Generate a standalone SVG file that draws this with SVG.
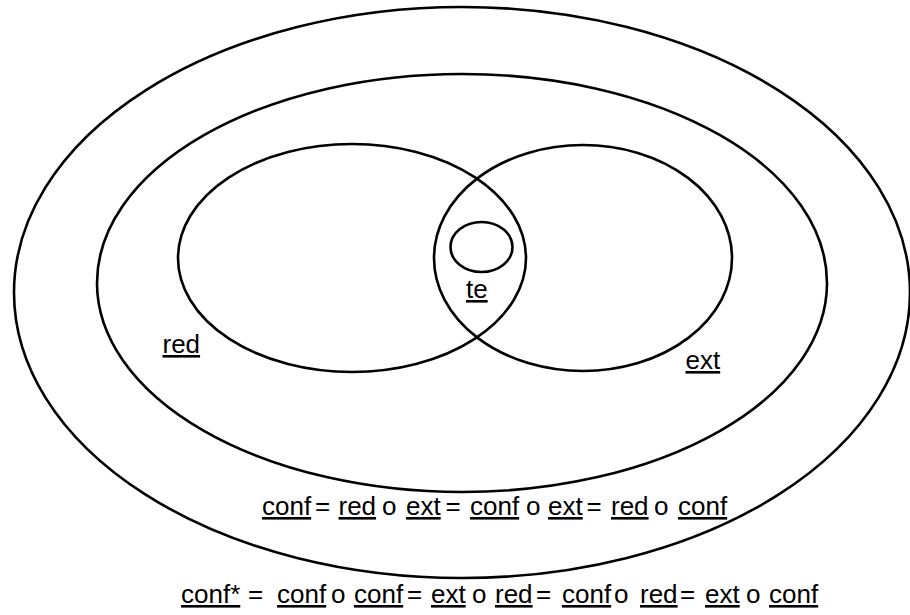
<svg xmlns="http://www.w3.org/2000/svg" width="910" height="615" viewBox="0 0 910 615">
  <style>
    .set { fill: none; stroke: #000; stroke-width: 2.6; }
    .lbl { font-family: "Liberation Sans", Arial, sans-serif; font-size: 26px; fill: #000; }
    .u { text-decoration: underline; }
  </style>
  <rect width="910" height="615" fill="#fff"/>

  <g id="conf-star">
    <ellipse class="set" cx="462" cy="292.5" rx="448" ry="285.5"/>
  </g>
  <g id="conf">
    <ellipse class="set" cx="462" cy="283" rx="365" ry="209"/>
  </g>
  <g id="red">
    <ellipse class="set" cx="352" cy="258" rx="174" ry="114"/>
    <text class="lbl u" x="162.5" y="353">red</text>
  </g>
  <g id="ext">
    <ellipse class="set" cx="583" cy="258" rx="149" ry="113"/>
    <text class="lbl u" x="685.5" y="369">ext</text>
  </g>
  <g id="te">
    <ellipse class="set" cx="481.5" cy="247" rx="31" ry="25"/>
    <text class="lbl u" x="466" y="298">te</text>
  </g>

  <g id="equations">
    <text class="lbl" y="515"><tspan class="u" x="262">conf</tspan><tspan x="315">=</tspan><tspan class="u" x="338.5">red</tspan><tspan x="382">o</tspan><tspan class="u" x="406">ext</tspan><tspan x="445.5">=</tspan><tspan class="u" x="470">conf</tspan><tspan x="526">o</tspan><tspan class="u" x="548">ext</tspan><tspan x="586.5">=</tspan><tspan class="u" x="611">red</tspan><tspan x="654">o</tspan><tspan class="u" x="678">conf</tspan></text>
    <text class="lbl" y="603"><tspan class="u" x="181">conf*</tspan><tspan x="248">=</tspan><tspan class="u" x="277">conf</tspan><tspan x="331">o</tspan><tspan class="u" x="354">conf</tspan><tspan x="407">=</tspan><tspan class="u" x="431">ext</tspan><tspan x="472">o</tspan><tspan class="u" x="495">red</tspan><tspan x="536">=</tspan><tspan class="u" x="562">conf</tspan><tspan x="614">o</tspan><tspan class="u" x="640">red</tspan><tspan x="680">=</tspan><tspan class="u" x="705">ext</tspan><tspan x="746">o</tspan><tspan class="u" x="769">conf</tspan></text>
  </g>
</svg>
